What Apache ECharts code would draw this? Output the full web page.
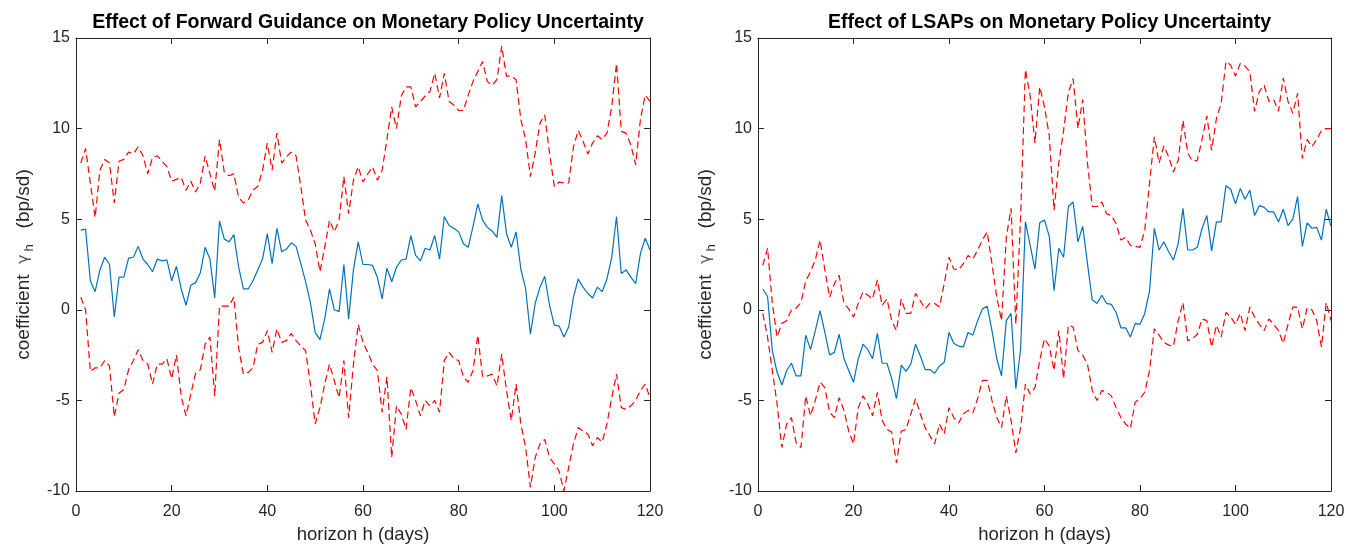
<!DOCTYPE html>
<html><head><meta charset="utf-8">
<script src="https://cdn.jsdelivr.net/npm/echarts@6/dist/echarts.min.js"></script>
<style>html,body{margin:0;padding:0;background:#fff}#c{width:1347px;height:544px}</style>
</head><body><div id="c"></div>
<script>
// horizons h = 1..120
const horizons = Array.from({length:120},(_,i)=>i+1);
const xTicks = [0,20,40,60,80,100,120];
const yTicks = [-10,-5,0,5,10,15];

const fgCoef = [4.4,4.45,1.6,1.0,2.2,2.9,2.5,-0.4,1.8,1.8,2.85,2.9,3.5,2.8,2.5,2.1,2.8,2.7,2.75,1.6,
2.4,1.15,0.25,1.35,1.5,2.05,3.45,2.8,0.65,4.9,3.9,3.75,4.15,2.35,1.15,1.15,1.6,2.2,2.8,4.2,
2.55,4.5,3.2,3.35,3.7,3.5,2.55,1.55,0.4,-1.25,-1.65,-0.5,1.15,0,-0.1,2.5,-0.5,2.2,3.75,2.5,
2.5,2.45,1.8,0.6,2.3,1.55,2.35,2.75,2.8,4.1,3.0,2.7,3.4,3.3,4.1,2.8,5.15,4.65,4.5,4.3,
3.65,3.45,4.6,5.85,4.95,4.55,4.35,4.0,6.3,4.2,3.45,4.3,2.25,1.15,-1.35,0.35,1.25,1.85,0.25,-0.85,
-0.9,-1.5,-0.95,0.7,1.7,1.25,0.9,0.65,1.25,1.0,1.7,2.9,5.15,2.0,2.2,1.8,1.45,3.1,3.95,3.3];
const fgUpper = [8.1,8.9,7.0,5.1,7.7,8.3,8.1,5.9,8.2,8.3,8.7,8.6,9.0,8.5,7.5,8.4,8.5,8.2,7.9,7.1,
7.2,7.3,6.6,7.1,6.5,7.0,8.5,7.5,6.55,9.4,7.6,7.4,7.5,6.2,5.9,6.05,6.6,6.8,7.7,9.2,
7.7,9.75,8.1,8.45,8.7,8.5,6.8,4.95,4.4,3.65,2.1,3.45,4.95,4.3,4.95,7.35,5.3,7.15,7.9,7.05,
7.5,7.9,7.15,7.7,9.4,11.2,10.0,11.8,12.3,12.3,11.2,11.5,11.8,12.05,13.05,11.7,13.05,11.5,11.3,11.0,
11.0,11.85,12.6,13.15,13.7,12.6,12.4,12.7,14.55,12.9,12.9,12.7,10.5,9.4,7.35,8.65,10.3,10.75,8.65,6.8,
7.05,7.0,7.0,9.0,9.9,9.3,8.6,9.2,9.6,9.4,9.75,11.2,13.6,9.85,9.75,9.1,8.0,10.5,11.85,11.5];
const fgLower = [0.7,0,-3.4,-3.2,-3.2,-2.8,-3.1,-5.9,-4.6,-4.4,-3.3,-2.8,-2.2,-2.8,-3.0,-4.1,-3.0,-3.0,-2.7,-3.8,
-2.5,-4.8,-5.85,-4.65,-3.5,-3.3,-1.9,-1.5,-4.75,0.2,0.2,0.2,0.7,-2.1,-3.55,-3.45,-3.2,-1.9,-1.8,-1.15,
-2.35,-1.05,-1.8,-1.7,-1.3,-1.7,-2.0,-2.25,-4.1,-6.3,-5.4,-4.1,-3.0,-3.9,-4.85,-2.8,-5.95,-3.0,-0.8,-1.8,
-2.35,-3.0,-3.35,-5.65,-3.7,-8.15,-5.3,-5.75,-6.6,-4.3,-5.0,-5.85,-5.0,-5.3,-5.0,-5.65,-2.8,-2.35,-2.7,-2.8,
-3.7,-4.0,-3.35,-1.4,-3.7,-3.65,-3.55,-4.2,-2.45,-4.45,-6.1,-4.1,-6.3,-7.6,-9.8,-8.15,-7.4,-7.15,-8.15,-8.5,
-8.9,-10.0,-8.7,-7.4,-6.5,-6.7,-6.85,-7.5,-7.05,-7.3,-6.3,-4.85,-3.55,-5.4,-5.5,-5.3,-5.0,-4.45,-4.1,-4.85];

const lsCoef = [1.15,0.75,-2.25,-3.45,-4.15,-3.35,-2.95,-3.65,-3.65,-1.4,-2.2,-1.15,-0.05,-1.25,-2.5,-2.35,-1.35,-2.7,-3.35,-4.0,
-2.7,-1.9,-2.2,-2.7,-1.3,-2.95,-2.95,-3.8,-4.9,-3.05,-3.4,-3.0,-1.9,-2.55,-3.3,-3.3,-3.5,-3.1,-2.9,-1.25,
-1.85,-2.0,-2.05,-1.25,-1.4,-0.6,0.05,0.2,-1.15,-2.7,-3.65,-0.6,-0.2,-4.35,-2.15,4.85,3.55,2.25,4.8,4.95,
4.05,1.05,3.4,2.9,5.7,5.95,3.75,4.6,2.55,0.55,0.35,0.8,0.35,0.3,-0.15,-1.0,-1.0,-1.5,-0.75,-0.8,
-0.2,1.05,4.5,3.3,3.75,3.2,2.75,3.65,5.6,3.3,3.3,3.45,4.5,5.2,3.25,4.85,4.85,6.85,6.65,5.85,
6.7,6.1,6.6,5.2,5.75,5.65,5.4,5.4,4.85,5.55,4.65,5.0,6.25,3.5,4.8,4.5,4.55,3.85,5.55,4.6];
const lsUpper = [2.45,3.4,0.35,-1.5,-0.75,-0.6,0,0.1,0.4,1.6,2.1,2.75,3.85,2.2,0.7,1.45,1.9,0.35,0.05,-0.4,
0.35,1.0,0.8,0.6,1.65,0.25,0.6,-0.6,-1.15,0.6,-0.2,-0.2,0.9,0.5,0.05,0.35,0.35,0.15,1.45,2.9,
2.25,2.2,2.55,3.0,2.8,3.3,3.85,4.3,2.55,0.7,-0.6,4.0,5.6,-0.8,5.15,13.25,11.8,9.2,12.3,11.2,
9.6,5.5,8.1,9.9,12.0,12.75,10.0,11.6,8.1,5.7,5.7,5.95,5.3,5.2,4.75,3.85,4.0,3.55,3.5,3.45,
4.4,7.0,9.55,8.1,9.05,8.45,7.6,8.25,10.45,8.65,8.2,8.25,9.4,10.7,8.8,10.55,11.4,13.7,13.5,12.9,
13.6,13.45,13.15,10.95,12.05,12.4,11.5,11.6,10.95,12.8,11.5,10.85,11.95,8.35,9.4,9.0,9.4,9.9,10.0,10.0];
const lsLower = [-0.2,-1.5,-3.35,-5.2,-7.6,-6.3,-5.95,-7.35,-7.6,-4.75,-5.85,-5.0,-4.0,-4.3,-5.65,-5.95,-4.85,-5.55,-6.7,-7.4,
-5.4,-4.75,-5.2,-5.85,-4.55,-6.1,-6.6,-6.75,-8.45,-6.7,-6.6,-5.75,-4.9,-5.75,-6.5,-6.95,-7.4,-6.3,-6.85,-5.4,
-5.95,-6.25,-5.75,-5.55,-5.7,-4.9,-3.9,-3.9,-5.0,-5.95,-6.5,-4.75,-6.1,-7.9,-6.5,-4.1,-4.65,-4.3,-2.8,-1.6,
-2.0,-3.35,-1.15,-3.8,-0.85,-0.95,-2.25,-2.5,-3.0,-4.45,-5.0,-4.45,-4.55,-4.75,-5.4,-5.95,-6.3,-6.55,-5.1,-4.9,
-4.55,-3.35,-1.05,-1.4,-1.8,-1.95,-2.0,-0.6,0.4,-1.7,-1.6,-1.35,-0.5,-0.6,-2.05,-0.85,-1.5,-0.15,-0.4,-0.8,
-0.2,-1.15,0.15,-0.4,-0.8,-1.15,-0.5,-0.8,-1.15,-1.85,-0.8,0.15,0.15,-1.05,0.1,0,-0.6,-2.05,0.4,-0.6];

const titles = ['Effect of Forward Guidance on Monetary Policy Uncertainty','Effect of LSAPs on Monetary Policy Uncertainty'];
const xLabel = 'horizon h (days)';

const FONT = 'Liberation Sans, Arial, Helvetica, sans-serif';
const AX = '#262626';
const grids = [{left:76, top:38, width:574, height:453},{left:758, top:38, width:573, height:453}];
const pair = (vals)=>horizons.map((h,i)=>[h,vals[i]]);

const xAxes=[], yAxes=[], series=[];
grids.forEach((g,gi)=>{
  const common = {min:0,max:120,interval:20,gridIndex:gi,type:'value',splitLine:{show:false},
    axisLine:{show:true,onZero:false,lineStyle:{color:AX,width:1}},
    axisTick:{show:true,inside:true,length:6,lineStyle:{color:AX,width:1}}};
  xAxes.push(Object.assign({},common,{position:'bottom',
    axisLabel:{color:AX,fontSize:16,fontFamily:FONT,margin:13,formatter:v=>xTicks.includes(v)?String(v):''},
    name:xLabel,nameLocation:'middle',nameGap:34,nameTextStyle:{color:AX,fontSize:18.5,fontFamily:FONT}}));
  xAxes.push(Object.assign({},common,{position:'top',axisLabel:{show:false}}));
  const ycommon = {min:-10,max:15,interval:5,gridIndex:gi,type:'value',splitLine:{show:false},
    axisLine:{show:true,onZero:false,lineStyle:{color:AX,width:1}},
    axisTick:{show:true,inside:true,length:6,lineStyle:{color:AX,width:1}}};
  yAxes.push(Object.assign({},ycommon,{position:'left',
    axisLabel:{color:AX,fontSize:16,fontFamily:FONT,margin:6,formatter:v=>yTicks.includes(v)?String(v):''},
    name:'{a|coefficient  }{g|γ}{s|h}{a|   (bp/sd)}',nameLocation:'middle',nameGap:40,nameRotate:90,
    nameTextStyle:{color:AX,fontFamily:FONT,rich:{
      a:{fontSize:19,fontFamily:FONT,color:AX},
      g:{fontSize:16,fontFamily:'DejaVu Sans, sans-serif',color:'#555'},
      s:{fontSize:13,fontFamily:FONT,color:AX,padding:[12,0,0,3]}}}}));
  yAxes.push(Object.assign({},ycommon,{position:'right',axisLabel:{show:false}}));
});
const sets = [[fgCoef,fgUpper,fgLower],[lsCoef,lsUpper,lsLower]];
sets.forEach((s,gi)=>{
  const xi = gi*2, yi = gi*2;
  series.push({type:'line',xAxisIndex:xi,yAxisIndex:yi,data:pair(s[1]),showSymbol:false,
    lineStyle:{color:'#FF0000',width:1.2,type:[7,4]},silent:true});
  series.push({type:'line',xAxisIndex:xi,yAxisIndex:yi,data:pair(s[2]),showSymbol:false,
    lineStyle:{color:'#FF0000',width:1.2,type:[7,4]},silent:true});
  series.push({type:'line',xAxisIndex:xi,yAxisIndex:yi,data:pair(s[0]),showSymbol:false,
    lineStyle:{color:'#0072BD',width:1.2},silent:true});
});

const chart = echarts.init(document.getElementById('c'));
chart.setOption({
  animation:false,
  backgroundColor:'#fff',
  title: titles.map((t,i)=>({text:t,left:grids[i].left+grids[i].width/2,top:8,textAlign:'center',
    textStyle:{fontSize:19.5,fontWeight:'bold',fontFamily:FONT,color:'#000'}})),
  grid: grids.map(g=>Object.assign({},g,{show:false,containLabel:false,outerBoundsMode:'none'})),
  xAxis:xAxes, yAxis:yAxes, series:series
});
</script></body></html>
